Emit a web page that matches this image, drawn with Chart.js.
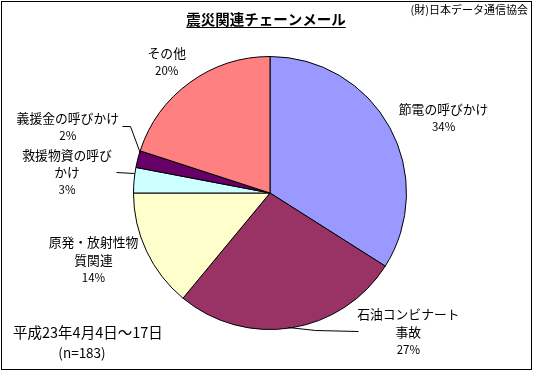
<!DOCTYPE html>
<html>
<head>
<meta charset="utf-8">
<script src="https://cdn.jsdelivr.net/npm/chart.js@4/dist/chart.umd.min.js"></script>
<style>
  html, body { margin: 0; padding: 0; background: #ffffff; }
  #wrap { width: 534px; height: 371px; }
</style>
</head>
<body>
<div id="wrap"><canvas id="c" width="534" height="371"></canvas></div>
<script>
// ---- data ----
const categories = ['節電の呼びかけ', '石油コンビナート事故', '原発・放射性物質関連', '救援物資の呼びかけ', '義援金の呼びかけ', 'その他'];
const labelLines = [
  ['節電の呼びかけ'],
  ['石油コンビナート', '事故'],
  ['原発・放射性物', '質関連'],
  ['救援物資の呼び', 'かけ'],
  ['義援金の呼びかけ'],
  ['その他']
];
const values = [34, 27, 14, 3, 2, 20];
const titleText = '震災関連チェーンメール';
const sourceText = '(財)日本データ通信協会';
const periodText = '平成23年4月4日～17日';
const sampleText = '(n=183)';

// ---- styles ----
const colors = ['#9999FF', '#993366', '#FFFFCC', '#CCFFFF', '#660066', '#FF8080'];
const FONT = '"Noto Sans CJK JP", "Noto Sans", sans-serif';
// label block centre offsets relative to the slice's outer mid-point
const labelOffsets = [[54, -9], [117, 4], [-53, 9], [-67, -8], [-70, -32], [-23, -21]];
// leader polylines relative to the slice's outer mid-point
const leaders = [null, [[-3, -1], [24, 2], [67, 3]], null, [[0, -7], [-18, -8]], [[2, -6], [-8, -33], [-16, -33]], null];

const textPlugin = {
  id: 'texts',
  afterDatasetsDraw(chart) {
    const ctx = chart.ctx;
    const meta = chart.getDatasetMeta(0);
    ctx.save();
    ctx.fillStyle = '#000';
    ctx.strokeStyle = '#000';
    ctx.lineWidth = 1;
    ctx.textAlign = 'center';
    ctx.textBaseline = 'middle';
    meta.data.forEach((arc, i) => {
      const p = arc.getProps(['x', 'y', 'startAngle', 'endAngle', 'outerRadius'], true);
      const a = (p.startAngle + p.endAngle) / 2;
      const px = p.x + p.outerRadius * Math.cos(a);
      const py = p.y + p.outerRadius * Math.sin(a);
      if (leaders[i]) {
        ctx.beginPath();
        leaders[i].forEach((pt, k) => {
          const lx = Math.round(px + pt[0]) + 0.5, ly = Math.round(py + pt[1]) + 0.5;
          if (k === 0) ctx.moveTo(lx, ly); else ctx.lineTo(lx, ly);
        });
        ctx.stroke();
      }
      const lines = labelLines[i].concat([values[i] + '%']);
      const lh = 17.5;
      const cx = px + labelOffsets[i][0];
      const cy = py + labelOffsets[i][1];
      const y0 = cy - (lines.length - 1) * lh / 2;
      lines.forEach((t, k) => {
        ctx.font = (k === lines.length - 1 ? '11.5px ' : '12.8px ') + FONT;
        ctx.fillText(t, cx, y0 + k * lh);
      });
    });
    // title
    ctx.font = 'bold 14.5px ' + FONT;
    ctx.fillText(titleText, 266, 19);
    const tw = ctx.measureText(titleText).width;
    ctx.beginPath();
    ctx.moveTo(266 - tw / 2, 27.5);
    ctx.lineTo(266 + tw / 2, 27.5);
    ctx.lineWidth = 1.2;
    ctx.stroke();
    // source
    ctx.font = '11px ' + FONT;
    ctx.textAlign = 'right';
    ctx.fillText(sourceText, 528, 10);
    // period
    ctx.font = '14.5px ' + FONT;
    ctx.textAlign = 'left';
    ctx.fillText(periodText, 13, 332);
    ctx.textAlign = 'center';
    ctx.font = '13.5px ' + FONT;
    ctx.fillText(sampleText, 82, 353);
    // frame
    ctx.lineWidth = 1;
    ctx.strokeRect(1.5, 1.5, 530, 368);
    ctx.restore();
  }
};

new Chart(document.getElementById('c'), {
  type: 'pie',
  data: {
    labels: categories,
    datasets: [{
      data: values,
      backgroundColor: colors,
      borderColor: '#000000',
      borderWidth: 1
    }]
  },
  options: {
    responsive: false,
    animation: false,
    events: [],
    layout: { padding: { top: 56, bottom: 41, left: 133, right: 127 } },
    plugins: {
      legend: { display: false },
      tooltip: { enabled: false },
      title: { display: false }
    }
  },
  plugins: [textPlugin]
});
</script>
</body>
</html>
